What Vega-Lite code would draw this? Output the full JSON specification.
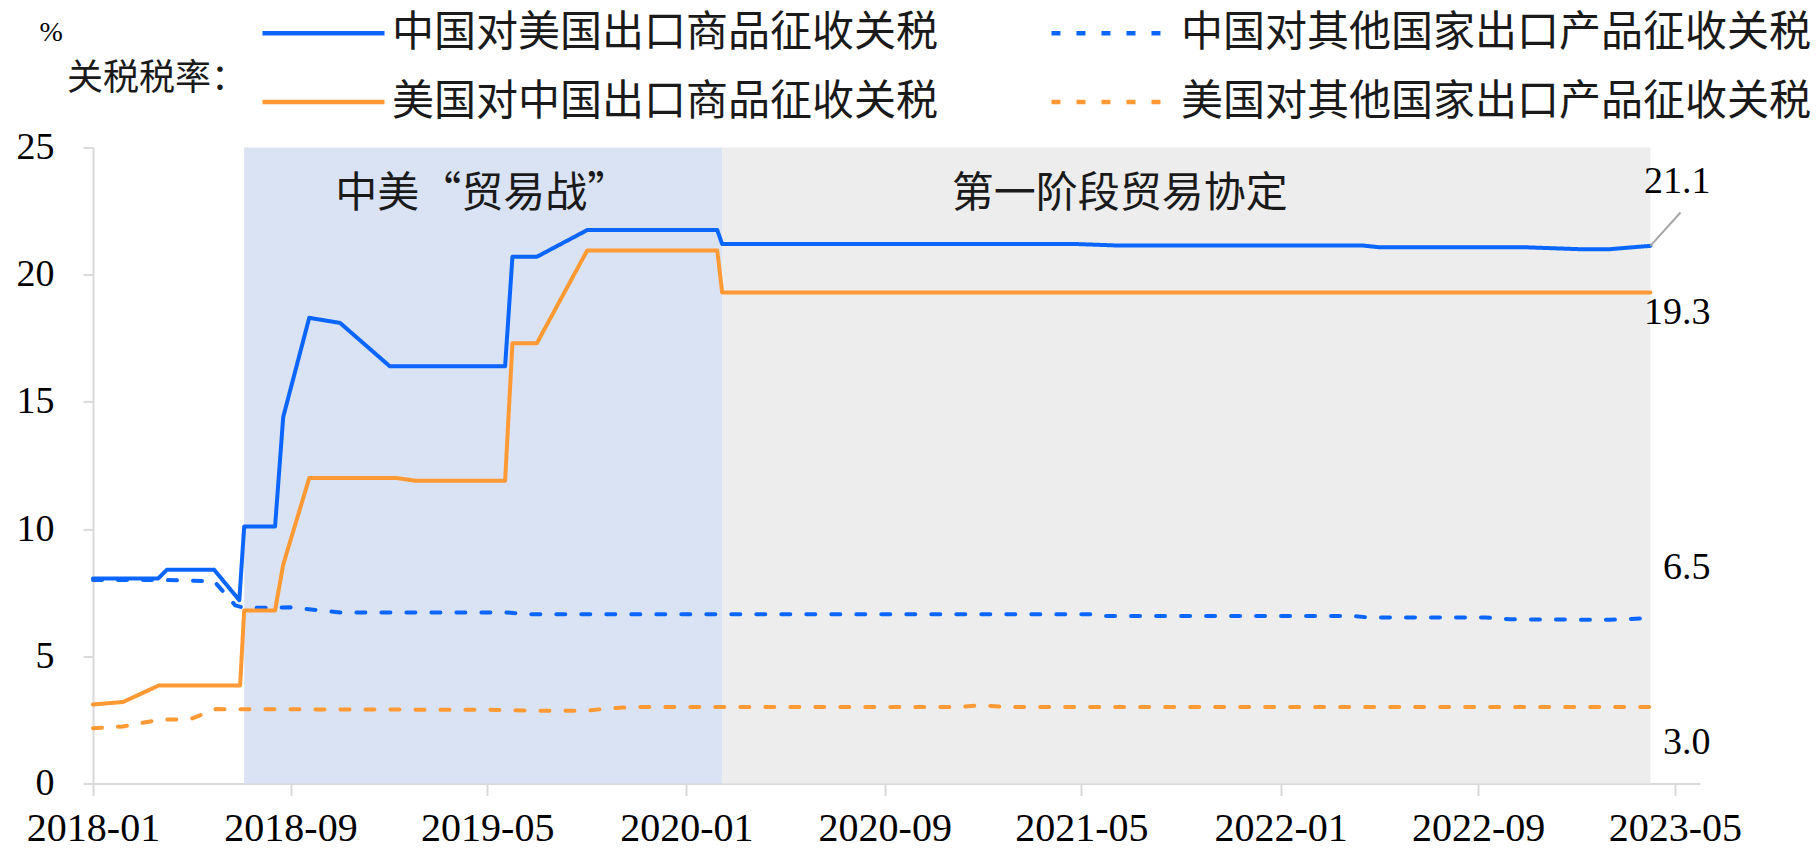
{
  "$schema": "https://vega.github.io/schema/vega-lite/v6.json",
  "autosize": {"type": "none"},
  "padding": {"left": 93, "top": 147.4, "right": 120, "bottom": 65.6},
  "width": 1607,
  "height": 636,
  "background": "#ffffff",
  "config": {
    "view": {"stroke": null},
    "font": "Liberation Serif",
    "axis": {"domainColor": "#d9d9d9", "tickColor": "#d9d9d9", "domainWidth": 2, "tickWidth": 2, "grid": false, "labelFont": "Liberation Serif", "labelColor": "#000000"},
    "legend": {
      "orient": "none", "legendX": -26, "legendY": -162, "columns": 2,
      "symbolType": "M-1.356,0H1.356", "symbolSize": 8100, "symbolStrokeWidth": 4.5, "symbolFillColor": "transparent",
      "labelFont": "Noto Sans CJK SC", "labelFontSize": 42, "labelColor": "#1a1a1a", "labelOffset": 21, "labelLimit": 1000,
      "columnPadding": 103, "rowPadding": -1.5, "padding": 0,
      "titleOrient": "left", "titleFont": "Noto Sans CJK SC", "titleFontSize": 36, "titleFontWeight": "normal", "titleColor": "#1a1a1a", "titlePadding": 28, "titleAnchor": "middle", "titleBaseline": "line-top", "titleLineHeight": 51, "titleLimit": 1000
    }
  },
  "datasets": {
    "tariffs": [
      {"series": "中国对美国出口商品征收关税", "date": "2018-01-01", "value": 8.05},
      {"series": "中国对美国出口商品征收关税", "date": "2018-03-22", "value": 8.05},
      {"series": "中国对美国出口商品征收关税", "date": "2018-04-02", "value": 8.4},
      {"series": "中国对美国出口商品征收关税", "date": "2018-05-30", "value": 8.4},
      {"series": "中国对美国出口商品征收关税", "date": "2018-06-30", "value": 7.2},
      {"series": "中国对美国出口商品征收关税", "date": "2018-07-06", "value": 10.1},
      {"series": "中国对美国出口商品征收关税", "date": "2018-08-13", "value": 10.1},
      {"series": "中国对美国出口商品征收关税", "date": "2018-08-23", "value": 14.4},
      {"series": "中国对美国出口商品征收关税", "date": "2018-09-24", "value": 18.3},
      {"series": "中国对美国出口商品征收关税", "date": "2018-11-01", "value": 18.1},
      {"series": "中国对美国出口商品征收关税", "date": "2019-01-01", "value": 16.4},
      {"series": "中国对美国出口商品征收关税", "date": "2019-05-23", "value": 16.4},
      {"series": "中国对美国出口商品征收关税", "date": "2019-06-01", "value": 20.7},
      {"series": "中国对美国出口商品征收关税", "date": "2019-07-01", "value": 20.7},
      {"series": "中国对美国出口商品征收关税", "date": "2019-09-01", "value": 21.75},
      {"series": "中国对美国出口商品征收关税", "date": "2020-02-08", "value": 21.75},
      {"series": "中国对美国出口商品征收关税", "date": "2020-02-14", "value": 21.2},
      {"series": "中国对美国出口商品征收关税", "date": "2021-04-26", "value": 21.2},
      {"series": "中国对美国出口商品征收关税", "date": "2021-06-18", "value": 21.14},
      {"series": "中国对美国出口商品征收关税", "date": "2022-04-13", "value": 21.14},
      {"series": "中国对美国出口商品征收关税", "date": "2022-05-01", "value": 21.08},
      {"series": "中国对美国出口商品征收关税", "date": "2022-10-24", "value": 21.08},
      {"series": "中国对美国出口商品征收关税", "date": "2023-01-03", "value": 21.0},
      {"series": "中国对美国出口商品征收关税", "date": "2023-02-10", "value": 21.0},
      {"series": "中国对美国出口商品征收关税", "date": "2023-04-01", "value": 21.13},

      {"series": "中国对其他国家出口产品征收关税", "date": "2018-01-01", "value": 8.0},
      {"series": "中国对其他国家出口产品征收关税", "date": "2018-03-22", "value": 8.0},
      {"series": "中国对其他国家出口产品征收关税", "date": "2018-05-30", "value": 7.95},
      {"series": "中国对其他国家出口产品征收关税", "date": "2018-06-25", "value": 7.0},
      {"series": "中国对其他国家出口产品征收关税", "date": "2018-07-06", "value": 6.9},
      {"series": "中国对其他国家出口产品征收关税", "date": "2018-09-01", "value": 6.92},
      {"series": "中国对其他国家出口产品征收关税", "date": "2018-11-01", "value": 6.72},
      {"series": "中国对其他国家出口产品征收关税", "date": "2019-05-25", "value": 6.72},
      {"series": "中国对其他国家出口产品征收关税", "date": "2019-06-15", "value": 6.65},
      {"series": "中国对其他国家出口产品征收关税", "date": "2021-05-12", "value": 6.65},
      {"series": "中国对其他国家出口产品征收关税", "date": "2021-05-20", "value": 6.58},
      {"series": "中国对其他国家出口产品征收关税", "date": "2022-04-01", "value": 6.58},
      {"series": "中国对其他国家出口产品征收关税", "date": "2022-04-20", "value": 6.52},
      {"series": "中国对其他国家出口产品征收关税", "date": "2022-09-10", "value": 6.52},
      {"series": "中国对其他国家出口产品征收关税", "date": "2022-10-10", "value": 6.45},
      {"series": "中国对其他国家出口产品征收关税", "date": "2023-02-10", "value": 6.43},
      {"series": "中国对其他国家出口产品征收关税", "date": "2023-04-01", "value": 6.5},

      {"series": "美国对中国出口商品征收关税", "date": "2018-01-01", "value": 3.1},
      {"series": "美国对中国出口商品征收关税", "date": "2018-02-07", "value": 3.2},
      {"series": "美国对中国出口商品征收关税", "date": "2018-03-23", "value": 3.85},
      {"series": "美国对中国出口商品征收关税", "date": "2018-07-01", "value": 3.85},
      {"series": "美国对中国出口商品征收关税", "date": "2018-07-06", "value": 6.8},
      {"series": "美国对中国出口商品征收关税", "date": "2018-08-13", "value": 6.8},
      {"series": "美国对中国出口商品征收关税", "date": "2018-08-23", "value": 8.6},
      {"series": "美国对中国出口商品征收关税", "date": "2018-09-24", "value": 12.0},
      {"series": "美国对中国出口商品征收关税", "date": "2019-01-10", "value": 12.0},
      {"series": "美国对中国出口商品征收关税", "date": "2019-02-01", "value": 11.9},
      {"series": "美国对中国出口商品征收关税", "date": "2019-05-23", "value": 11.9},
      {"series": "美国对中国出口商品征收关税", "date": "2019-06-01", "value": 17.3},
      {"series": "美国对中国出口商品征收关税", "date": "2019-07-01", "value": 17.3},
      {"series": "美国对中国出口商品征收关税", "date": "2019-09-01", "value": 20.95},
      {"series": "美国对中国出口商品征收关税", "date": "2020-02-08", "value": 20.95},
      {"series": "美国对中国出口商品征收关税", "date": "2020-02-14", "value": 19.3},
      {"series": "美国对中国出口商品征收关税", "date": "2023-04-01", "value": 19.3},

      {"series": "美国对其他国家出口产品征收关税", "date": "2018-01-01", "value": 2.17},
      {"series": "美国对其他国家出口产品征收关税", "date": "2018-02-07", "value": 2.24},
      {"series": "美国对其他国家出口产品征收关税", "date": "2018-03-23", "value": 2.5},
      {"series": "美国对其他国家出口产品征收关税", "date": "2018-05-01", "value": 2.53},
      {"series": "美国对其他国家出口产品征收关税", "date": "2018-06-01", "value": 2.92},
      {"series": "美国对其他国家出口产品征收关税", "date": "2019-05-12", "value": 2.89},
      {"series": "美国对其他国家出口产品征收关税", "date": "2019-07-01", "value": 2.86},
      {"series": "美国对其他国家出口产品征收关税", "date": "2019-09-01", "value": 2.86},
      {"series": "美国对其他国家出口产品征收关税", "date": "2019-10-01", "value": 2.96},
      {"series": "美国对其他国家出口产品征收关税", "date": "2019-11-01", "value": 3.0},
      {"series": "美国对其他国家出口产品征收关税", "date": "2020-12-01", "value": 3.0},
      {"series": "美国对其他国家出口产品征收关税", "date": "2020-12-28", "value": 3.07},
      {"series": "美国对其他国家出口产品征收关税", "date": "2021-01-28", "value": 3.0},
      {"series": "美国对其他国家出口产品征收关税", "date": "2023-04-01", "value": 3.0}
    ],
    "endLabels": [
      {"label": "21.1", "date": "2023-04-01", "value": 21.13},
      {"label": "19.3", "date": "2023-04-01", "value": 19.3},
      {"label": "6.5", "date": "2023-04-01", "value": 6.5},
      {"label": "3.0", "date": "2023-04-01", "value": 3.0}
    ],
    "leader": [
      {"date": "2023-04-01", "value": 21.13, "date2": "2023-05-08", "value2": 22.44}
    ]
  },
  "encoding": {
    "x": {
      "field": "date", "type": "temporal",
      "scale": {"type": "utc", "domain": [{"year": 2018, "month": 1, "date": 1, "utc": true}, {"year": 2023, "month": 6, "date": 1, "utc": true}]},
      "axis": {
        "title": null, "format": "%Y-%m", "tickSize": 12, "labelFontSize": 40, "labelPadding": 13, "labelFlush": false, "labelOverlap": false,
        "values": [
          {"year": 2018, "month": 1, "date": 1, "utc": true},
          {"year": 2018, "month": 9, "date": 1, "utc": true},
          {"year": 2019, "month": 5, "date": 1, "utc": true},
          {"year": 2020, "month": 1, "date": 1, "utc": true},
          {"year": 2020, "month": 9, "date": 1, "utc": true},
          {"year": 2021, "month": 5, "date": 1, "utc": true},
          {"year": 2022, "month": 1, "date": 1, "utc": true},
          {"year": 2022, "month": 9, "date": 1, "utc": true},
          {"year": 2023, "month": 5, "date": 1, "utc": true}
        ]
      }
    },
    "y": {
      "field": "value", "type": "quantitative",
      "scale": {"domain": [0, 25], "nice": false, "zero": true},
      "axis": {
        "values": [0, 5, 10, 15, 20, 25], "tickSize": 10, "labelPadding": 29, "labelFontSize": 38,
        "title": "%", "titleAngle": 0, "titleFont": "Liberation Serif", "titleFontSize": 28, "titleFontWeight": "normal", "titleColor": "#000000",
        "titleAlign": "left", "titleBaseline": "middle", "titleX": -54, "titleY": -115
      }
    }
  },
  "layer": [
    {
      "data": {"values": [
        {"period": "中美“贸易战”", "start": "2018-07-06", "end": "2020-02-14", "top": 25, "bottom": 0},
        {"period": "第一阶段贸易协定", "start": "2020-02-14", "end": "2023-04-01", "top": 25, "bottom": 0}
      ]},
      "mark": {"type": "rect"},
      "encoding": {
        "x": {"field": "start", "type": "temporal"},
        "x2": {"field": "end"},
        "y": {"field": "top", "type": "quantitative"},
        "y2": {"field": "bottom"},
        "fill": {"field": "period", "type": "nominal", "scale": {"domain": ["中美“贸易战”", "第一阶段贸易协定"], "range": ["#dae3f3", "#ededed"]}, "legend": null}
      }
    },
    {
      "data": {"values": [{"period": "中美“贸易战”", "at": "2019-04-25", "level": 23.15}]},
      "mark": {"type": "text", "font": "Noto Sans CJK SC", "fontSize": 42, "color": "#1a1a1a", "align": "center", "baseline": "middle"},
      "encoding": {
        "x": {"field": "at", "type": "temporal"},
        "y": {"field": "level", "type": "quantitative"},
        "text": {"field": "period"}
      }
    },
    {
      "data": {"values": [{"period": "第一阶段贸易协定", "at": "2021-06-17", "level": 23.15}]},
      "mark": {"type": "text", "font": "Noto Sans CJK SC", "fontSize": 42, "color": "#1a1a1a", "align": "center", "baseline": "middle"},
      "encoding": {
        "x": {"field": "at", "type": "temporal"},
        "y": {"field": "level", "type": "quantitative"},
        "text": {"field": "period"}
      }
    },
    {
      "data": {"name": "tariffs"},
      "mark": {"type": "line", "strokeWidth": 4, "strokeCap": "round", "strokeJoin": "round"},
      "encoding": {
        "stroke": {
          "field": "series", "type": "nominal",
          "scale": {"domain": ["中国对美国出口商品征收关税", "美国对中国出口商品征收关税", "中国对其他国家出口产品征收关税", "美国对其他国家出口产品征收关税"], "range": ["#0a66ff", "#ff9933", "#0a66ff", "#ff9933"]},
          "legend": {"title": "关税税率："}
        },
        "strokeDash": {
          "field": "series", "type": "nominal",
          "scale": {"domain": ["中国对美国出口商品征收关税", "美国对中国出口商品征收关税", "中国对其他国家出口产品征收关税", "美国对其他国家出口产品征收关税"], "range": [[1, 0], [1, 0], [9, 16], [9, 16]]},
          "legend": {"title": "关税税率："}
        }
      }
    },
    {
      "data": {"name": "leader"},
      "mark": {"type": "rule", "color": "#a6a6a6", "strokeWidth": 2},
      "encoding": {
        "x": {"field": "date", "type": "temporal"},
        "y": {"field": "value", "type": "quantitative"},
        "x2": {"field": "date2"},
        "y2": {"field": "value2"}
      }
    },
    {
      "data": {"name": "endLabels"},
      "transform": [{"filter": "datum.label === '21.1'"}],
      "mark": {"type": "text", "font": "Liberation Serif", "fontSize": 38, "color": "#000000", "align": "right", "baseline": "middle", "dx": 60, "dy": -64},
      "encoding": {"text": {"field": "label"}}
    },
    {
      "data": {"name": "endLabels"},
      "transform": [{"filter": "datum.label === '19.3'"}],
      "mark": {"type": "text", "font": "Liberation Serif", "fontSize": 38, "color": "#000000", "align": "right", "baseline": "middle", "dx": 60, "dy": 21},
      "encoding": {"text": {"field": "label"}}
    },
    {
      "data": {"name": "endLabels"},
      "transform": [{"filter": "datum.label === '6.5'"}],
      "mark": {"type": "text", "font": "Liberation Serif", "fontSize": 38, "color": "#000000", "align": "right", "baseline": "middle", "dx": 60, "dy": -50},
      "encoding": {"text": {"field": "label"}}
    },
    {
      "data": {"name": "endLabels"},
      "transform": [{"filter": "datum.label === '3.0'"}],
      "mark": {"type": "text", "font": "Liberation Serif", "fontSize": 38, "color": "#000000", "align": "right", "baseline": "middle", "dx": 60, "dy": 36},
      "encoding": {"text": {"field": "label"}}
    }
  ]
}
